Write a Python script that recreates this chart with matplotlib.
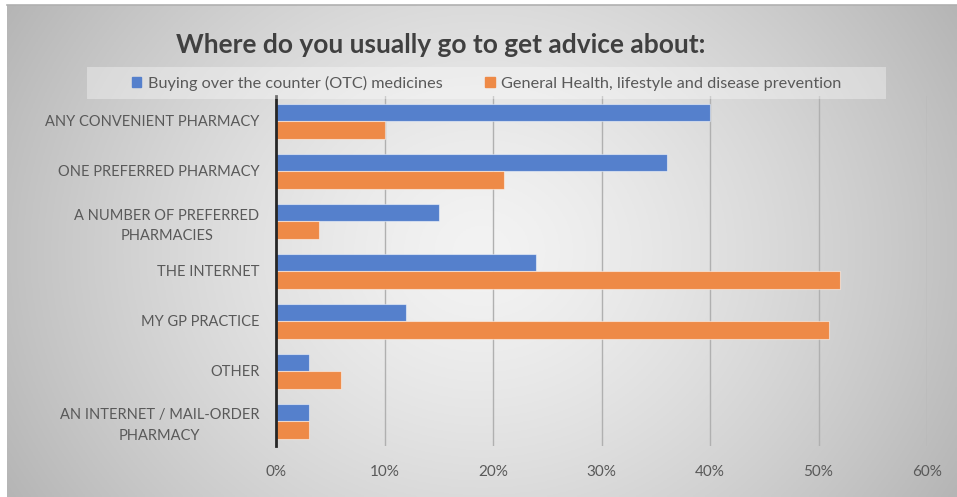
import numpy as np
import matplotlib.pyplot as plt
from matplotlib.patches import Patch, Rectangle

categories = [
    "ANY CONVENIENT PHARMACY",
    "ONE PREFERRED PHARMACY",
    "A NUMBER OF PREFERRED\nPHARMACIES",
    "THE INTERNET",
    "MY GP PRACTICE",
    "OTHER",
    "AN INTERNET / MAIL-ORDER\nPHARMACY",
]
otc = [0.40, 0.36, 0.15, 0.24, 0.12, 0.03, 0.03]
general = [0.10, 0.21, 0.04, 0.52, 0.51, 0.06, 0.03]
series_names = ["Buying over the counter (OTC) medicines",
                "General Health, lifestyle and disease prevention"]
xticks = [0, 0.1, 0.2, 0.3, 0.4, 0.5, 0.6]
xtick_labels = ["0%", "10%", "20%", "30%", "40%", "50%", "60%"]

BLUE = "#5580cc"
ORANGE = "#ee8a47"
TEXT = "#595959"

plt.rcParams["font.family"] = ["Lato", "DejaVu Sans"]

W, H = 957, 497
fig = plt.figure(figsize=(W / 100, H / 100), dpi=100)
fig.patch.set_facecolor("white")

# background: radial grey gradient over the chart area
bg = fig.add_axes([7 / W, 0, (W - 7) / W, (H - 5) / H])
bg.set_axis_off()
gx, gy = np.meshgrid(np.linspace(-1, 1, 400), np.linspace(-1, 1, 200))
r = np.sqrt(gx ** 2 + 0.35 * gy ** 2) / np.sqrt(1.35)
shade = (243 - 62 * r ** 1.4) / 255.0
bg.imshow(np.dstack([shade] * 3), aspect="auto", extent=(0, 1, 0, 1))
bg.set_xlim(0, 1)
bg.set_ylim(0, 1)
fig.add_artist(plt.Line2D([7 / W, 1], [(H - 5) / H] * 2, color="#b0b0b0", lw=1.2))

# legend box
fig.add_artist(Rectangle((87 / W, (H - 99) / H), (886 - 87) / W, 32 / H,
                         transform=fig.transFigure, facecolor="white",
                         alpha=0.35, edgecolor="none"))

ax = fig.add_axes([276 / W, (H - 446) / H, (927 - 276) / W, 350 / H])
ax.set_facecolor("none")

y = np.arange(len(categories))
h = 0.35
ax.barh(y - h / 2, otc, height=h, color=BLUE, edgecolor=(1, 1, 1, 0.5), lw=0.8, zorder=3)
ax.barh(y + h / 2, general, height=h, color=ORANGE, edgecolor=(1, 1, 1, 0.5), lw=0.8, zorder=3)

ax.set_xlim(0, 0.6)
ax.set_ylim(len(categories) - 0.5, -0.5)
ax.set_xticks(xticks)
ax.set_xticklabels(xtick_labels)
ax.set_yticks(y)
ax.set_yticklabels(categories)
ax.tick_params(axis="both", length=0, labelcolor=TEXT)
ax.tick_params(axis="x", pad=14, labelsize=11)
ax.tick_params(axis="y", pad=12, labelsize=10.5)
for lbl in ax.get_yticklabels():
    lbl.set_multialignment("center")
    lbl.set_linespacing(1.55)
ax.xaxis.grid(True, color="#b0b0b0", lw=1, zorder=0)
ax.set_axisbelow(True)
for s in ["top", "right", "bottom"]:
    ax.spines[s].set_visible(False)
ax.spines["left"].set_color("#262626")
ax.spines["left"].set_linewidth(2)
ax.spines["left"].set_zorder(4)

fig.text(441 / W, (H - 45) / H, "Where do you usually go to get advice about:",
         ha="center", va="center", fontsize=19, fontweight="bold", color="#404040")

handles = [Patch(color=BLUE), Patch(color=ORANGE)]
fig.legend(handles, series_names, loc="center", ncol=2, frameon=False,
           bbox_to_anchor=((87 + 886) / 2 / W, (H - 83) / H),
           fontsize=11.7, labelcolor=TEXT, handlelength=0.6, handleheight=0.6,
           handletextpad=0.4, columnspacing=2.6)

fig.savefig("out.png", dpi=100)
